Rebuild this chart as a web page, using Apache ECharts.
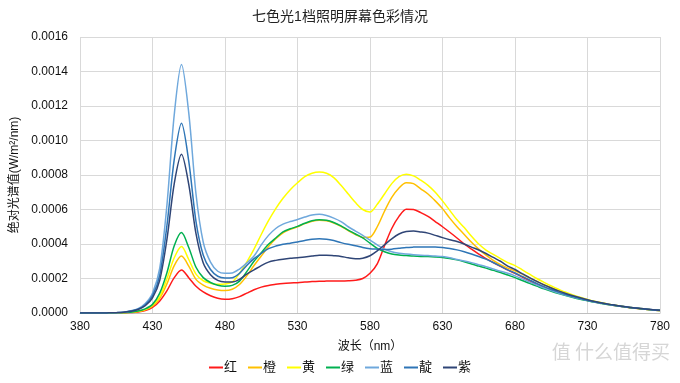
<!DOCTYPE html>
<html>
<head>
<meta charset="utf-8">
<script src="https://cdn.jsdelivr.net/npm/echarts@6/dist/echarts.min.js"></script>
<style>html,body{margin:0;padding:0;background:#fff}#c{width:680px;height:383px}</style>
</head>
<body>
<div id="c"></div>
<script>
const title = '七色光1档照明屏幕色彩情况';
const xName = '波长（nm）';
const yName = '绝对光谱值(W/m²/nm)';
const seriesNames = ['红','橙','黄','绿','蓝','靛','紫'];
const xTicks = [380,430,480,530,580,630,680,730,780];
const yTicks = [0,0.0002,0.0004,0.0006,0.0008,0.0010,0.0012,0.0014,0.0016];
const wavelengths = [380,385,390,395,400,405,410,415,420,425,430,435,440,445,450,455,460,465,470,475,480,485,490,495,500,505,510,515,520,525,530,535,540,545,550,555,560,565,570,575,580,585,590,595,600,605,610,615,620,625,630,635,640,645,650,655,660,665,670,675,680,685,690,695,700,705,710,715,720,725,730,735,740,745,750,755,760,765,770,775,780];

const red = [0,0,0,0,0,1e-6,1e-6,3e-6,6e-6,1.4e-5,3.2e-5,7e-5,1.3e-4,2.05e-4,2.49e-4,2.05e-4,1.55e-4,1.22e-4,1.0e-4,8.5e-5,8.0e-5,8.3e-5,9.5e-5,1.15e-4,1.35e-4,1.5e-4,1.6e-4,1.66e-4,1.71e-4,1.74e-4,1.76e-4,1.79e-4,1.82e-4,1.84e-4,1.85e-4,1.86e-4,1.86e-4,1.87e-4,1.9e-4,2.0e-4,2.3e-4,2.85e-4,3.9e-4,4.9e-4,5.6e-4,6.02e-4,6.0e-4,5.82e-4,5.6e-4,5.3e-4,5.0e-4,4.68e-4,4.35e-4,4.0e-4,3.7e-4,3.42e-4,3.15e-4,2.92e-4,2.7e-4,2.5e-4,2.3e-4,2.08e-4,1.87e-4,1.67e-4,1.49e-4,1.33e-4,1.18e-4,1.05e-4,9.3e-5,8.3e-5,7.3e-5,6.4e-5,5.6e-5,4.9e-5,4.2e-5,3.6e-5,3.1e-5,2.6e-5,2.2e-5,1.8e-5,1.5e-5];
const orange = [0,0,0,0,0,1e-6,2e-6,4e-6,8e-6,1.8e-5,4.0e-5,8.5e-5,1.7e-4,2.75e-4,3.3e-4,2.72e-4,1.95e-4,1.62e-4,1.43e-4,1.33e-4,1.3e-4,1.38e-4,1.65e-4,2.15e-4,2.75e-4,3.3e-4,3.85e-4,4.3e-4,4.65e-4,4.85e-4,5.0e-4,5.18e-4,5.32e-4,5.38e-4,5.35e-4,5.22e-4,5.02e-4,4.78e-4,4.55e-4,4.38e-4,4.4e-4,5.0e-4,5.9e-4,6.7e-4,7.25e-4,7.55e-4,7.5e-4,7.2e-4,6.9e-4,6.5e-4,6.05e-4,5.5e-4,5.0e-4,4.55e-4,4.1e-4,3.7e-4,3.35e-4,3.05e-4,2.8e-4,2.6e-4,2.45e-4,2.25e-4,2.04e-4,1.84e-4,1.64e-4,1.46e-4,1.29e-4,1.13e-4,9.9e-5,8.7e-5,7.6e-5,6.6e-5,5.8e-5,5.0e-5,4.3e-5,3.7e-5,3.1e-5,2.6e-5,2.2e-5,1.8e-5,1.5e-5];
const yellow = [0,0,0,0,0,1e-6,2e-6,5e-6,1.0e-5,2.1e-5,4.5e-5,9.5e-5,2.0e-4,3.2e-4,3.85e-4,3.1e-4,2.25e-4,1.87e-4,1.73e-4,1.66e-4,1.68e-4,1.8e-4,2.3e-4,2.95e-4,3.7e-4,4.55e-4,5.35e-4,6.05e-4,6.65e-4,7.15e-4,7.55e-4,7.9e-4,8.1e-4,8.17e-4,8.1e-4,7.85e-4,7.4e-4,6.9e-4,6.4e-4,6.0e-4,5.85e-4,6.3e-4,6.9e-4,7.5e-4,7.9e-4,8.05e-4,7.95e-4,7.7e-4,7.4e-4,7.0e-4,6.5e-4,5.95e-4,5.4e-4,4.95e-4,4.45e-4,4.0e-4,3.65e-4,3.4e-4,3.15e-4,2.92e-4,2.75e-4,2.5e-4,2.25e-4,2.0e-4,1.78e-4,1.57e-4,1.38e-4,1.2e-4,1.05e-4,9.1e-5,7.9e-5,6.8e-5,5.9e-5,5.1e-5,4.4e-5,3.8e-5,3.2e-5,2.7e-5,2.2e-5,1.8e-5,1.5e-5];
const green = [0,0,0,0,0,1e-6,2e-6,5e-6,1.1e-5,2.4e-5,5.0e-5,1.15e-4,2.35e-4,3.9e-4,4.66e-4,3.8e-4,2.65e-4,2.05e-4,1.77e-4,1.61e-4,1.55e-4,1.6e-4,1.85e-4,2.4e-4,3.0e-4,3.5e-4,3.98e-4,4.35e-4,4.7e-4,4.88e-4,5.02e-4,5.2e-4,5.35e-4,5.41e-4,5.38e-4,5.25e-4,5.05e-4,4.8e-4,4.58e-4,4.35e-4,4.05e-4,3.75e-4,3.55e-4,3.42e-4,3.36e-4,3.33e-4,3.3e-4,3.28e-4,3.27e-4,3.25e-4,3.22e-4,3.16e-4,3.08e-4,2.97e-4,2.84e-4,2.72e-4,2.6e-4,2.47e-4,2.35e-4,2.2e-4,2.05e-4,1.88e-4,1.72e-4,1.56e-4,1.4e-4,1.26e-4,1.13e-4,1.01e-4,9.0e-5,8.0e-5,7.1e-5,6.2e-5,5.5e-5,4.8e-5,4.2e-5,3.6e-5,3.1e-5,2.6e-5,2.2e-5,1.8e-5,1.5e-5];
const blue = [0,0,0,0,1e-6,2e-6,5e-6,1.2e-5,2.5e-5,5.5e-5,1.15e-4,2.6e-4,6.3e-4,1.15e-3,1.44e-3,1.16e-3,6.9e-4,4.1e-4,2.95e-4,2.42e-4,2.3e-4,2.32e-4,2.55e-4,2.9e-4,3.3e-4,3.95e-4,4.5e-4,4.9e-4,5.15e-4,5.3e-4,5.42e-4,5.56e-4,5.68e-4,5.72e-4,5.65e-4,5.5e-4,5.3e-4,5.0e-4,4.75e-4,4.5e-4,4.22e-4,3.95e-4,3.7e-4,3.55e-4,3.47e-4,3.42e-4,3.38e-4,3.35e-4,3.33e-4,3.3e-4,3.27e-4,3.2e-4,3.1e-4,3.02e-4,2.92e-4,2.8e-4,2.68e-4,2.55e-4,2.42e-4,2.3e-4,2.15e-4,1.98e-4,1.8e-4,1.62e-4,1.45e-4,1.3e-4,1.16e-4,1.03e-4,9.2e-5,8.2e-5,7.3e-5,6.4e-5,5.6e-5,4.9e-5,4.3e-5,3.7e-5,3.2e-5,2.7e-5,2.2e-5,1.8e-5,1.5e-5];
const indigo = [0,0,0,0,1e-6,2e-6,5e-6,1.1e-5,2.2e-5,4.8e-5,1.0e-4,2.2e-4,5.1e-4,8.9e-4,1.10e-3,8.8e-4,5.3e-4,3.35e-4,2.52e-4,2.13e-4,2.03e-4,2.05e-4,2.3e-4,2.75e-4,3.15e-4,3.45e-4,3.73e-4,3.88e-4,3.98e-4,4.05e-4,4.12e-4,4.2e-4,4.28e-4,4.31e-4,4.28e-4,4.2e-4,4.08e-4,3.98e-4,3.9e-4,3.8e-4,3.73e-4,3.7e-4,3.68e-4,3.7e-4,3.75e-4,3.8e-4,3.82e-4,3.83e-4,3.83e-4,3.83e-4,3.8e-4,3.74e-4,3.66e-4,3.55e-4,3.42e-4,3.28e-4,3.12e-4,2.93e-4,2.72e-4,2.5e-4,2.32e-4,2.12e-4,1.92e-4,1.72e-4,1.53e-4,1.36e-4,1.21e-4,1.07e-4,9.5e-5,8.4e-5,7.4e-5,6.5e-5,5.7e-5,4.9e-5,4.3e-5,3.7e-5,3.2e-5,2.7e-5,2.3e-5,1.9e-5,1.6e-5];
const violet = [0,0,0,0,1e-6,2e-6,4e-6,1.0e-5,2.0e-5,4.2e-5,8.8e-5,1.9e-4,4.3e-4,7.5e-4,9.2e-4,7.45e-4,4.6e-4,2.9e-4,2.22e-4,1.89e-4,1.8e-4,1.8e-4,1.95e-4,2.25e-4,2.5e-4,2.75e-4,2.95e-4,3.05e-4,3.12e-4,3.17e-4,3.2e-4,3.25e-4,3.3e-4,3.35e-4,3.35e-4,3.32e-4,3.28e-4,3.2e-4,3.15e-4,3.18e-4,3.32e-4,3.6e-4,3.95e-4,4.3e-4,4.58e-4,4.72e-4,4.75e-4,4.7e-4,4.63e-4,4.5e-4,4.37e-4,4.25e-4,4.15e-4,4.0e-4,3.82e-4,3.65e-4,3.45e-4,3.22e-4,3.0e-4,2.72e-4,2.52e-4,2.28e-4,2.05e-4,1.83e-4,1.63e-4,1.45e-4,1.28e-4,1.13e-4,1.0e-4,8.8e-5,7.7e-5,6.7e-5,5.8e-5,5.0e-5,4.4e-5,3.8e-5,3.2e-5,2.7e-5,2.3e-5,1.9e-5,1.6e-5];

const seriesData = [red, orange, yellow, green, blue, indigo, violet];
const colors = ['#ff1a1a','#ffc000','#ffff00','#00b050','#6fa8dc','#2e75b6','#2f4576'];
const font = '"Liberation Sans", "Noto Sans CJK SC", sans-serif';

const chart = echarts.init(document.getElementById('c'), null, {renderer:'canvas'});
chart.setOption({
  animation: false,
  textStyle: {fontFamily: font},
  title: {text: title, left: 'center', top: 5, textStyle: {fontSize: 14, fontWeight: 'normal', color: '#222', fontFamily: font}},
  grid: {left: 80, right: 20, top: 37, bottom: 70},
  legend: {
    bottom: 4, left: 'center', itemWidth: 14, itemHeight: 2, itemGap: 11, icon: 'rect',
    textStyle: {fontSize: 13, color: '#111', padding: [0,0,0,-4]},
    data: seriesNames
  },
  xAxis: {
    type: 'value', min: xTicks[0], max: xTicks[xTicks.length-1], interval: 50,
    name: xName, nameLocation: 'middle', nameGap: 28,
    nameTextStyle: {fontSize: 12, color: '#111'},
    axisLine: {show: true, lineStyle: {color: '#bfbfbf'}},
    axisTick: {show: false},
    axisLabel: {fontSize: 12, color: '#111', margin: 8},
    splitLine: {show: true, lineStyle: {color: '#d9d9d9'}}
  },
  yAxis: {
    type: 'value', min: yTicks[0], max: yTicks[yTicks.length-1], interval: 0.0002,
    name: yName, nameLocation: 'middle', nameGap: 52, nameRotate: 90,
    nameTextStyle: {fontSize: 12, color: '#111'},
    axisLine: {show: false}, axisTick: {show: false},
    axisLabel: {fontSize: 12, color: '#111', margin: 12, formatter: v => v.toFixed(4)},
    splitLine: {show: true, lineStyle: {color: '#d9d9d9'}}
  },
  graphic: [{
    type: 'text', right: 10, bottom: 22,
    style: {text: '值 什么值得买', fontSize: 19, fill: '#d6d6d6', fontFamily: '"Noto Sans CJK SC"'}
  }],
  series: seriesNames.map((n, k) => ({
    name: n, type: 'line', smooth: 0.3, showSymbol: false, symbol: 'none',
    lineStyle: {width: 1.5, color: colors[k]}, itemStyle: {color: colors[k]},
    data: wavelengths.map((w, i) => [w, seriesData[k][i]])
  }))
});
</script>
</body>
</html>
